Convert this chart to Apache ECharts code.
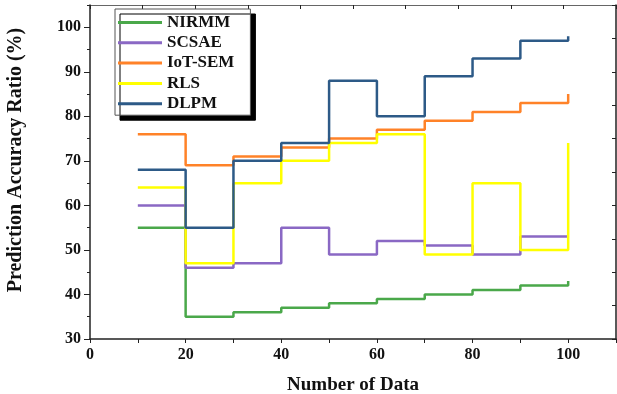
<!DOCTYPE html>
<html>
<head>
<meta charset="utf-8">
<script src="https://cdn.jsdelivr.net/npm/echarts@6/dist/echarts.min.js"></script>
<style>
  html, body { margin: 0; padding: 0; background: #fff; }
  #chart { width: 617px; height: 394px; }
</style>
</head>
<body>
<div id="chart"></div>
<script>
// step plot: prediction accuracy vs number of data
var xs = [10, 20, 30, 40, 50, 60, 70, 80, 90, 100];
var seriesNames = ['NIRMM', 'SCSAE', 'IoT-SEM', 'RLS', 'DLPM'];
var nirmm  = [55, 35, 36, 37, 38, 39, 40, 41, 42, 43];
var scsae  = [60, 46, 47, 55, 49, 52, 51, 49, 53, 53];
var iotSem = [76, 69, 71, 73, 75, 77, 79, 81, 83, 85];
var rls    = [64, 47, 65, 70, 74, 76, 49, 65, 50, 74];
var dlpm   = [68, 55, 70, 74, 88, 80, 89, 93, 97, 98];
var colors = ['#4aa84a', '#8a68c4', '#ff8228', '#ffff00', '#2d5a87'];

var font = 'Liberation Serif';
var allData = [nirmm, scsae, iotSem, rls, dlpm];

function pairs(vals) {
    return xs.map(function (x, i) { return [x, vals[i]]; });
}

var chart = echarts.init(document.getElementById('chart'));

var option = {
    backgroundColor: '#fff',
    animation: false,
    grid: { left: 90, right: 1, top: 5, bottom: 55, outerBoundsMode: 'none' },
    legend: {
        orient: 'vertical',
        left: 115,
        top: 9,
        icon: 'rect',
        itemWidth: 44,
        itemHeight: 3,
        itemGap: 3.3,
        padding: [5, 16, 3, 3],
        backgroundColor: '#fff',
        borderColor: '#555',
        borderWidth: 1,
        shadowColor: '#000',
        shadowBlur: 0,
        shadowOffsetX: 5,
        shadowOffsetY: 5,
        textStyle: { fontFamily: font, fontWeight: 'bold', fontSize: 17, color: '#111' },
        data: seriesNames
    },
    xAxis: [
        {
            type: 'value',
            min: 0,
            max: 110,
            interval: 10,
            name: 'Number of Data',
            nameLocation: 'middle',
            nameGap: 37,
            nameTextStyle: { fontFamily: font, fontWeight: 'bold', fontSize: 19, color: '#111' },
            axisLine: { show: true, lineStyle: { color: '#222', width: 1.5 } },
            axisTick: { show: true, inside: false, length: 4, lineStyle: { color: '#222' } },
            axisLabel: {
                fontFamily: font, fontWeight: 'bold', fontSize: 16, color: '#111', margin: 8,
                formatter: function (v) { return v % 20 === 0 && v <= 100 ? String(v) : ''; }
            },
            splitLine: { show: false }
        },
        {
            type: 'value',
            position: 'top',
            min: 0,
            max: 110,
            interval: 11,
            axisLine: { show: true, lineStyle: { color: '#666', width: 1 } },
            axisTick: { show: true, inside: true, length: 4, lineStyle: { color: '#222' } },
            axisLabel: { show: false },
            splitLine: { show: false }
        }
    ],
    yAxis: [
        {
            type: 'value',
            min: 30,
            max: 105,
            interval: 10,
            name: 'Prediction Accuracy Ratio (%)',
            nameLocation: 'middle',
            nameGap: 64,
            nameTextStyle: {
                fontFamily: font, fontWeight: 'bold', fontSize: 20, color: '#111',
                padding: [0, 0, 0, 24]
            },
            axisLine: { show: true, lineStyle: { color: '#222', width: 1.5 } },
            axisTick: { show: true, inside: false, length: 6, lineStyle: { color: '#222' } },
            axisLabel: {
                fontFamily: font, fontWeight: 'bold', fontSize: 16, color: '#111', margin: 9,
                showMaxLabel: false
            },
            splitLine: { show: false }
        },
        {
            type: 'value',
            position: 'left',
            min: 30,
            max: 105,
            interval: 5,
            axisLine: { show: false },
            axisTick: { show: true, inside: false, length: 3, lineStyle: { color: '#222' } },
            axisLabel: { show: false },
            splitLine: { show: false }
        },
        {
            type: 'value',
            position: 'right',
            min: 30,
            max: 105,
            interval: 7.5,
            axisLine: { show: true, lineStyle: { color: '#222', width: 1.5 } },
            axisTick: { show: true, inside: true, length: 4, lineStyle: { color: '#222' } },
            axisLabel: { show: false },
            splitLine: { show: false }
        }
    ],
    series: seriesNames.map(function (name, i) {
        return {
            name: name,
            type: 'line',
            step: 'end',
            symbol: 'none',
            color: colors[i],
            lineStyle: { color: colors[i], width: 2.5 },
            data: pairs(allData[i])
        };
    })
};

chart.setOption(option);
</script>
</body>
</html>
